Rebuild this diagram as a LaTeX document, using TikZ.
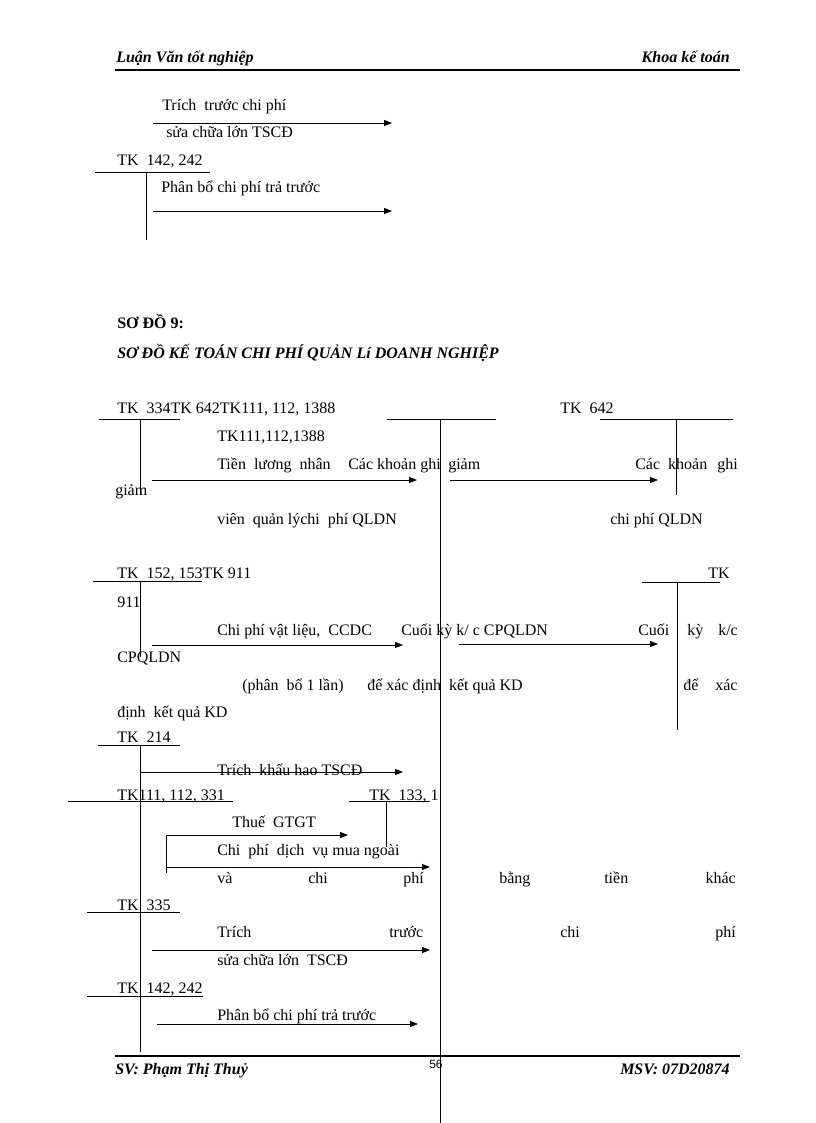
\documentclass[tikz,border=0pt]{standalone}
\usepackage{fontspec}
\setmainfont{Liberation Serif}
\newfontfamily\pagenofont{Liberation Sans}
\usetikzlibrary{arrows.meta}
\tikzset{
  txt/.style={anchor=base west,inner sep=0pt},
  txtr/.style={anchor=base east,inner sep=0pt},
  acc/.style={line width=0.7pt},
  arr/.style={-{Triangle[length=6pt,width=4.5pt]},line width=0.6pt},
  rule/.style={line width=1.6pt}
}
\begin{document}
\begin{tikzpicture}[x=0.75pt,y=-0.75pt,font=\fontsize{12}{14}\selectfont]
    \useasboundingbox[fill=white](0,0) rectangle (816,1123);

    \draw(116,63)node[txt,font=\fontsize{12}{14}\selectfont\bfseries\itshape](hdleft){Luận Văn tốt nghiệp};
    \draw(730,63)node[txtr,font=\fontsize{12}{14}\selectfont\bfseries\itshape](hdright){Khoa kế toán};
    \draw[rule](115,70)--(740,70);

    \draw(162,111)node[txt](trichA){Trích\ \ trước chi\ phí};
    \draw[arr](153,123)--(392,123);
    \draw(166,138)node[txt](suaA){sửa chữa lớn\ TSCĐ};
    \draw(117,166)node[txt](tkA){TK\ \ 142, 242};
    \draw[acc](95,172)--(210,172);
    \draw[acc](146,172)--(146,240);
    \draw(161,193)node[txt](phanA){Phân bổ chi\ phí trả trước};
    \draw[arr](153,211)--(392,211);

    \draw(117,328)node[txt,font=\fontsize{12}{14}\selectfont\bfseries](sodo){SƠ ĐỒ 9:};
    \draw(117,358)node[txt,font=\fontsize{12}{14}\selectfont\bfseries\itshape](tieude){SƠ ĐỒ KẾ TOÁN CHI PHÍ QUẢN Lí DOANH NGHIỆP};

    \draw(117,413)node[txt](tk334){TK\ \ 334TK 642TK111, 112, 1388};
    \draw[acc](99,419)--(180,419);
    \draw[acc](140,419)--(140,495);
    \draw[acc](387,419)--(496,419);
    \draw[acc](440,419)--(440,1123);
    \draw(560,413)node[txt](tk642){TK\ \ 642};
    \draw[acc](600,419)--(733,419);
    \draw[acc](676,419)--(676,495);
    \draw(217,441)node[txt](tk111){TK111,112,1388};
    \draw(217,469)node[txt](tienluong){Tiền\ \ lương\ \ nhân};
    \draw(348,469)node[txt](cackhoan){Các khoản\ ghi};
    \draw(448,469)node[txt](giamA){giảm};
    \draw(635,469)node[txt](cackhoanB){Các\ \ khoản};
    \draw(717,469)node[txt](ghiB){ghi};
    \draw[arr](152,480)--(417,480);
    \draw[arr](450,480)--(658,480);
    \draw(115,495)node[txt](giamB){giảm};
    \draw(217,524)node[txt](vien){viên\ \ quản\ lýchi\ \ phí QLDN};
    \draw(610,524)node[txt](chiphiB){chi\ phí QLDN};

    \draw(117,578)node[txt](tk152){TK\ \ 152, 153TK 911};
    \draw[acc](93,581)--(202,581);
    \draw(708,578)node[txt](tkB){TK};
    \draw[acc](642,582)--(720,582);
    \draw[acc](140,581)--(140,657);
    \draw[acc](677,582)--(677,730);
    \draw(117,607)node[txt](soA){911};
    \draw(217,635)node[txt](vatlieu){Chi\ phí\ vật liệu,\ \ CCDC};
    \draw(401,635)node[txt](cuoiky){Cuối kỳ k/ c CPQLDN};
    \draw(638,635)node[txt](cuoiB){Cuối};
    \draw(687,635)node[txt](kyB){kỳ};
    \draw(718,635)node[txt](kcB){k/c};
    \draw[arr](152,645)--(403,645);
    \draw[arr](459,644)--(658,644);
    \draw(117,662)node[txt](cpqldn){CPQLDN};
    \draw(242,690)node[txt](phanbo){(phân\ \ bổ 1 lần)};
    \draw(367,690)node[txt](dexac){để xác\ định\ \ kết quả KD};
    \draw(683,690)node[txt](deB){để};
    \draw(715,690)node[txt](xacB){xác};
    \draw(117,717)node[txt](dinh){định\ \ kết quả KD};

    \draw(117,742)node[txt](tk214){TK\ \ 214};
    \draw[acc](98,745)--(180,745);
    \draw[acc](140,745)--(140,1052);
    \draw(217,775)node[txt](khauhao){Trích\ \ khấu hao TSCĐ};
    \draw[arr](140,772)--(403,772);
    \draw(117,800)node[txt](tk331){TK111, 112, 331};
    \draw[acc](68,801)--(233,801);
    \draw(369,800)node[txt](tk133){TK\ \ 133, 1};
    \draw[acc](349,801)--(430,801);
    \draw[acc](386,801)--(386,847);
    \draw(232,827)node[txt](thue){Thuế\ \ GTGT};
    \draw[arr](166,835)--(348,835);
    \draw[acc](166,835)--(166,873);
    \draw(217,855)node[txt](dichvu){Chi\ \ phí\ \ dịch\ \ vụ\ mua\ ngoài};
    \draw[arr](166,867)--(430,867);
    \draw(217,883)node[txt](wA){và};
    \draw(308,883)node[txt](wB){chi};
    \draw(403,883)node[txt](wC){phí};
    \draw(499,883)node[txt](wD){bằng};
    \draw(604,883)node[txt](wE){tiền};
    \draw(736,883)node[txtr](wF){khác};

    \draw(117,910)node[txt](tk335){TK\ \ 335};
    \draw[acc](87,912)--(180,912);
    \draw(217,937)node[txt](vA){Trích};
    \draw(389,937)node[txt](vB){trước};
    \draw(560,937)node[txt](vC){chi};
    \draw(736,937)node[txtr](vD){phí};
    \draw[arr](152,950)--(430,950);
    \draw(217,965)node[txt](suaB){sửa chữa lớn\ \ TSCĐ};
    \draw(117,993)node[txt](tk142){TK\ \ 142, 242};
    \draw[acc](87,996)--(203,996);
    \draw(217,1020)node[txt](phanB){Phân bổ chi\ phí trả trước};
    \draw[arr](157,1024)--(418,1024);

    \draw[rule](115,1056)--(740,1056);
    \draw(115,1074)node[txt,font=\fontsize{12}{14}\selectfont\bfseries\itshape](sv){SV:\ Phạm Thị Thuỷ};
    \draw(429,1068)node[txt,font=\fontsize{9}{10}\selectfont\pagenofont](trang){56};
    \draw(730,1074)node[txtr,font=\fontsize{12}{14}\selectfont\bfseries\itshape](msv){MSV:\ 07D20874};
\end{tikzpicture}
\end{document}
